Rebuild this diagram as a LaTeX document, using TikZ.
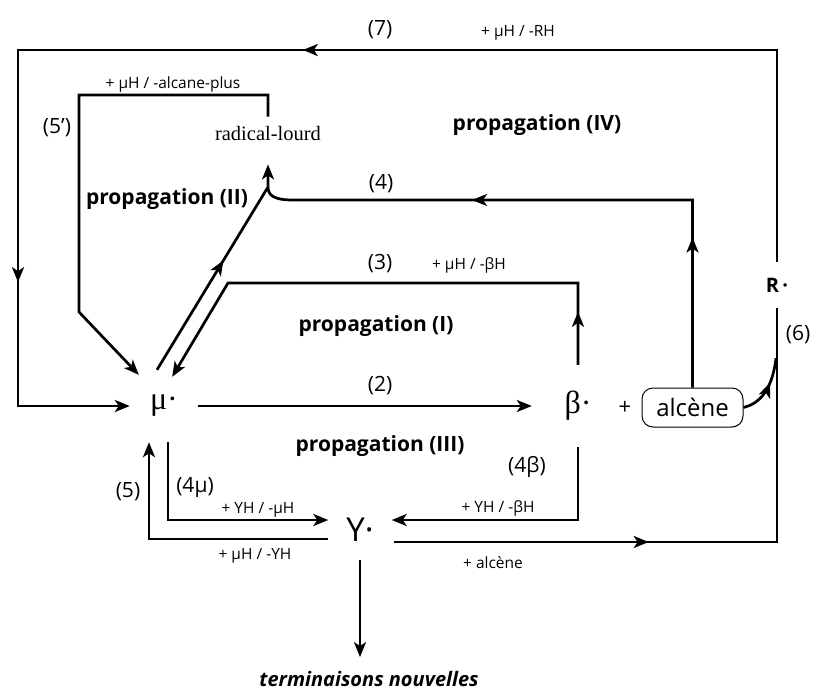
\documentclass[tikz,border=0pt]{standalone}
\usepackage{fontspec}
\setmainfont{Open Sans}
\newfontfamily\seriffont{Liberation Serif}
\usetikzlibrary{positioning, arrows.meta, calc, decorations.markings}

\begin{document}
\begin{tikzpicture}[
        x=1pt, y=-1pt,
        line/.style    = {line width=2.7pt},
        arrow/.style   = {line, -{Stealth[length=15pt, width=12pt, inset=4pt]}},
        arrowat/.style = {postaction={decorate, decoration={markings,
                          mark=at position #1 with {\arrow{Stealth[length=15pt, width=12pt, inset=4pt]}}}}},
        species/.style = {inner sep=0pt, font=\seriffont\fontsize{32}{32}\selectfont},
        ysp/.style     = {inner sep=0pt, font=\fontsize{33}{33}\selectfont},
        num/.style     = {inner sep=0pt, font=\fontsize{21}{21}\selectfont},
        lbl/.style     = {inner sep=0pt, font=\fontsize{15.5}{15.5}\selectfont},
        prop/.style    = {inner sep=0pt, font=\bfseries\fontsize{21}{21}\selectfont},
        alcbox/.style  = {draw, line width=1pt, rounded corners=11pt, minimum width=101pt,
                          minimum height=39pt, inner sep=0pt, font=\fontsize{24}{24}\selectfont},
    ]
        \useasboundingbox (0,0) rectangle (814,691);

        %---- species ----
        \node[species, minimum width=68pt, minimum height=72pt] (mu) at (164,406) {μ·};
        \node[species, minimum width=92pt, minimum height=82pt] (beta) at (578,406) {β·};
        \node[ysp, minimum width=63pt, minimum height=60pt] (Y) at (360,530) {Y·};
        \node[inner sep=0pt, minimum height=46pt, font=\bfseries\fontsize{20}{20}\selectfont] (R) at (777,285) {R\,·};
        \node[alcbox] (alc) at (692.5,407.5) {alcène};
        \node[inner sep=0pt, font=\fontsize{22}{22}\selectfont] (plus) at (625,408) {+};
        \node[inner sep=0pt, font=\seriffont\fontsize{20.5}{20.5}\selectfont] (heavy) at (268,133) {radical-lourd};
        \node[inner sep=0pt, font=\bfseries\itshape\fontsize{20}{20}\selectfont] (term) at (369,679) {terminaisons nouvelles};

        %---- bends ----
        \coordinate (tl) at (18,50);
        \coordinate (c5a) at (79,95);
        \coordinate (c5b) at (79,312);
        \coordinate (join) at (268,187);
        \coordinate (c4) at (293,200);
        \coordinate (c3) at (228,283);

        %---- connectors ----
        % (7)
        \draw[arrow, arrowat=686pt, arrowat=1203pt] (R.north) |- (tl) -- (tl |- mu) -- (mu.west);
        % (5')
        \draw[arrow] ($(heavy.north)+(0,-9)$) |- (c5a) -- (c5b) -- ($(mu.north west)+(9,5)$);
        % (II)
        \draw[arrow, arrowat=128pt] ($(mu.north)+(-7,0)$) -- (join) -- ($(heavy.south)+(0,24)$);
        % (4)
        \draw[line, arrowat=150pt, arrowat=408pt] (alc.north) -- (alc.north |- c4) -- (c4)
            .. controls (275,200) and (268,196) .. (join);
        % (3)
        \draw[arrow, arrowat=53pt] (beta.north) |- (c3) -- ($(mu.north east)+(-26,7)$);
        % (2)
        \draw[arrow] (mu.east) -- (beta.west);
        % (4mu)
        \draw[arrow] ($(mu.south)+(4,0)$) |- ($(Y.west)+(0,-10)$);
        % (5)
        \draw[arrow] ($(Y.west)+(0,9)$) -| ($(mu.south)+(-15,0)$);
        % (4beta)
        \draw[arrow] (beta.south) |- ($(Y.east)+(0,-10)$);
        % Y + alcene -> R
        \draw[line, arrowat=255pt] ($(Y.east)+(2,12)$) -| (R.south);
        % (6)
        \draw[line, arrowat=0.6] (alc.east) .. controls (758,404) and (772,392) .. ($(R.south)+(-1,50)$);
        % terminaisons
        \draw[arrow, shorten >=14pt] (Y.south) -- (Y.south |- term.north);

        %---- labels ----
        \node[num] (l7) at (380,30) {(7)};
        \node[lbl] (lRH) at (518,33) {+ μH / -RH};
        \node[lbl] (l5p-txt) at (173,84) {+ μH / -alcane-plus};
        \node[num] (l5p) at (57,128) {(5\symbol{39})};
        \node[prop] (pIV) at (537,125) {propagation (IV)};
        \node[prop] (pII) at (167,199) {propagation (II)};
        \node[num] (l4) at (381,184) {(4)};
        \node[num] (l3) at (380,264) {(3)};
        \node[lbl] (lbH) at (469,265) {+ μH / -βH};
        \node[prop] (pI) at (376,326) {propagation (I)};
        \node[num] (l2) at (380,386) {(2)};
        \node[prop] (pIII) at (380,446) {propagation (III)};
        \node[num] (l4b) at (527,467) {(4β)};
        \node[num] (l4m) at (195,487) {(4μ)};
        \node[num] (l5) at (128,492) {(5)};
        \node[lbl] (lYmu) at (258,510) {+ YH / -μH};
        \node[lbl] (lYb) at (498,508) {+ YH / -βH};
        \node[lbl] (lmuY) at (255,556) {+ μH / -YH};
        \node[lbl] (lalk) at (493,563) {+ alcène};
        \node[num] (l6) at (798,335) {(6)};
    \end{tikzpicture}
\end{document}
